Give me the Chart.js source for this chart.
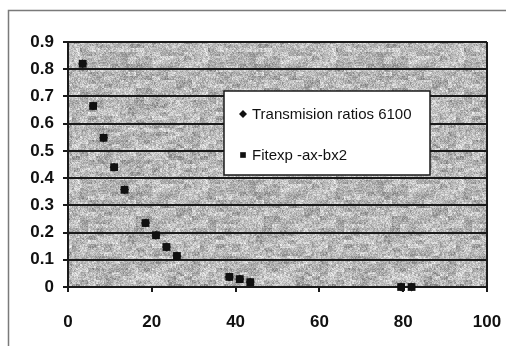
<!DOCTYPE html>
<html>
<head>
<meta charset="utf-8">
<script src="https://cdn.jsdelivr.net/npm/chart.js@4/dist/chart.umd.min.js"></script>
<style>
  body { margin: 0; background: #fff; }
  #wrap { width: 506px; height: 346px; position: relative; }
</style>
</head>
<body>
<div id="wrap"><canvas id="scatter-chart" width="506" height="346"></canvas></div>
<script>
// measured transmission and the exp fit through it
let distance = [3.5, 6, 8.5, 11, 13.5, 18.5, 21, 23.5, 26, 38.5, 41, 43.5, 79.5, 82]
let ratios = [0.82, 0.665, 0.548, 0.44, 0.357, 0.235, 0.19, 0.147, 0.114, 0.037, 0.029, 0.018, 0, 0]
let fitted = [0.82, 0.665, 0.548, 0.44, 0.357, 0.235, 0.19, 0.147, 0.114, 0.037, 0.029, 0.018, 0, 0]
let seriesNames = ["Transmision ratios 6100", "Fitexp -ax-bx2"]
let xTicks = [0, 20, 40, 60, 80, 100]
let yTicks = ["0", "0.1", "0.2", "0.3", "0.4", "0.5", "0.6", "0.7", "0.8", "0.9"]

const toPoints = ys => ys.map((y, i) => ({x: distance[i], y: y}))

// grainy grey fill for the plot area (deterministic hash, no Math.random)
function grainTile(size) {
  const c = document.createElement('canvas')
  c.width = c.height = size
  const g = c.getContext('2d')
  const img = g.createImageData(size, size)
  const hash = (x, y) => {
    let h = (x * 374761393 + y * 668265263) | 0
    h = (h ^ (h >>> 13)) * 1274126177 | 0
    return ((h ^ (h >>> 16)) >>> 0) / 4294967295
  }
  for (let y = 0; y < size; y++) {
    for (let x = 0; x < size; x++) {
      let blob = hash(x >> 3, y >> 2)
      let coarse = hash(x >> 1, y >> 1)
      let fine = hash(x, y)
      let v = 250 - blob * 45 - coarse * 35 - fine * 55
      let k = (y * size + x) * 4
      img.data[k] = img.data[k+1] = img.data[k+2] = Math.max(60, v)
      img.data[k+3] = 255
    }
  }
  g.putImageData(img, 0, 0)
  return c
}

const framePlugin = {
  id: 'frame',
  beforeDraw(chart) {
    const {ctx, chartArea: a} = chart
    ctx.save()
    ctx.fillStyle = '#fff'
    ctx.fillRect(0, 0, chart.width, chart.height)
    ctx.strokeStyle = '#7a7a7a'
    ctx.lineWidth = 1.5
    ctx.strokeRect(8.5, 10.5, 600, 400)
    ctx.fillStyle = ctx.createPattern(grainTile(128), 'repeat')
    ctx.fillRect(a.left, a.top, a.right - a.left, a.bottom - a.top)
    ctx.restore()
  },
  afterDatasetsDraw(chart) {
    const {ctx, chartArea: a} = chart
    ctx.save()
    ctx.strokeStyle = '#1a1a1a'
    ctx.lineWidth = 2
    ctx.beginPath()
    ctx.moveTo(a.right, a.top)
    ctx.lineTo(a.right, a.bottom + 5)
    ctx.stroke()
    ctx.restore()
  }
}

// legend box sitting inside the plot
const boxLegend = {
  id: 'boxLegend',
  afterDraw(chart) {
    const ctx = chart.ctx
    ctx.save()
    ctx.fillStyle = '#fff'
    ctx.fillRect(224, 91, 206, 84)
    ctx.strokeStyle = '#1a1a1a'
    ctx.lineWidth = 1.5
    ctx.strokeRect(224, 91, 206, 84)
    ctx.font = '15px "Liberation Sans", Arial, sans-serif'
    ctx.textBaseline = 'middle'
    chart.data.datasets.forEach((ds, i) => {
      const y = i == 0 ? 114 : 155
      ctx.fillStyle = '#111'
      ctx.strokeStyle = '#111'
      Chart.helpers.drawPoint(ctx, {pointStyle: ds.pointStyle, radius: 4, rotation: 0, borderWidth: 0}, 243, y)
      ctx.fillStyle = '#111'
      ctx.fillText(ds.label, 252, y + 1)
    })
    ctx.restore()
  }
}

new Chart(document.getElementById("scatter-chart"), {
  type: 'scatter',
  data: {
    datasets: [{
        label: seriesNames[0],
        data: toPoints(ratios),
        pointStyle: 'rectRot',
        pointRadius: 4.5,
        backgroundColor: '#111',
        borderColor: '#111',
        borderWidth: 0
      }, {
        label: seriesNames[1],
        data: toPoints(fitted),
        pointStyle: 'rect',
        pointRadius: 5.5,
        backgroundColor: '#111',
        borderColor: '#111',
        borderWidth: 0
      }
    ]
  },
  options: {
    responsive: false,
    animation: false,
    clip: false,
    layout: { padding: { left: 8, right: 19, top: 42, bottom: 0 } },
    plugins: {
      legend: { display: false },
      tooltip: { enabled: false }
    },
    scales: {
      x: {
        type: 'linear',
        min: 0, max: 100,
        afterBuildTicks: axis => { axis.ticks = xTicks.map(v => ({value: v})) },
        afterFit: axis => { axis.height = 59; axis.paddingLeft = 0; axis.paddingRight = 0 },
        grid: { drawOnChartArea: false, drawTicks: true, tickLength: 5, color: '#1a1a1a', lineWidth: 2 },
        border: { display: true, color: '#1a1a1a', width: 2 },
        ticks: { color: '#111', padding: 20, font: { family: '"Liberation Sans", Arial', size: 17, weight: 'bold' } }
      },
      y: {
        type: 'linear',
        min: 0, max: 0.9,
        afterBuildTicks: axis => { axis.ticks = yTicks.map(v => ({value: Number(v)})) },
        afterFit: axis => { axis.width = 60; axis.paddingTop = 0; axis.paddingBottom = 0 },
        grid: { color: '#1a1a1a', lineWidth: 2, tickLength: 5 },
        border: { display: true, color: '#1a1a1a', width: 2 },
        ticks: {
          color: '#111', padding: 9,
          callback: (v, i) => yTicks[i],
          font: { family: '"Liberation Sans", Arial', size: 17, weight: 'bold' }
        }
      }
    }
  },
  plugins: [framePlugin, boxLegend]
});
</script>
</body>
</html>
